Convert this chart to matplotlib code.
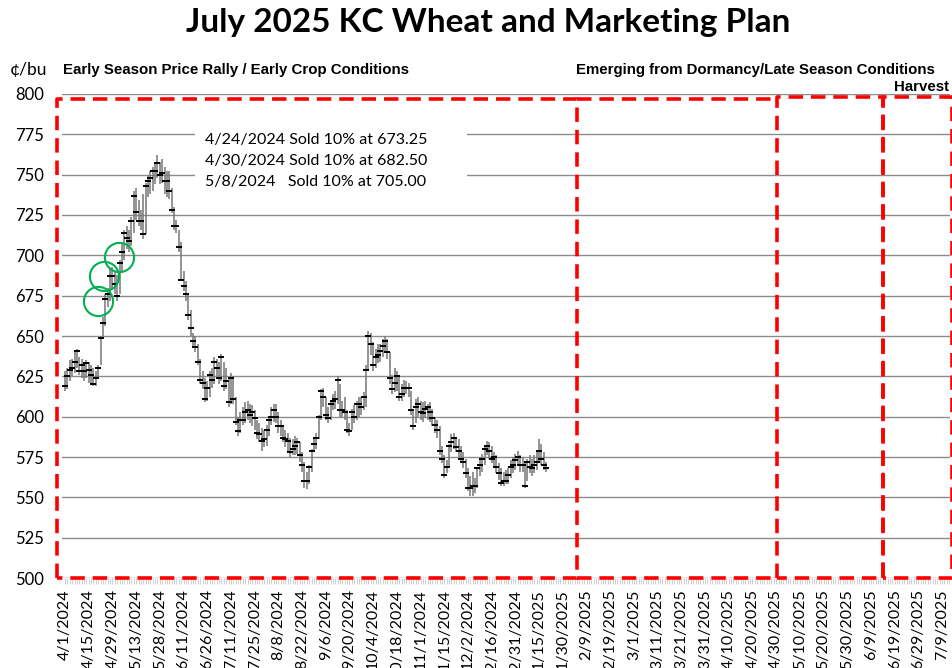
import matplotlib
matplotlib.use("Agg")
import matplotlib.pyplot as plt
from matplotlib.patches import Rectangle
import numpy as np

# 日足データ（4/1/2024 から 1/22/2025 ごろまで、単位 ¢/bu）
closes = [619, 625, 629, 630, 634, 641, 628, 632, 628, 633, 629, 626, 620, 624, 630,
          649, 658, 673, 676, 687, 687, 682, 675, 695, 702, 714, 711, 709, 721, 737,
          727, 721, 721, 713, 743, 746, 748, 752, 752, 757, 750, 751, 746, 746, 740,
          728, 718, 718, 705, 685, 681, 676, 663, 655,
          647, 643, 634, 623, 621, 611, 618, 626, 623, 634, 630, 624, 637, 619, 622,
          609, 624, 611, 597, 591, 598, 598, 603, 604, 601, 603, 599, 590, 589, 585,
          586, 592, 598, 600, 604, 600, 594, 594, 587, 586, 585, 578, 580, 582, 584,
          576, 570, 560, 560, 569, 579, 583, 587, 600, 616, 612, 601, 599, 608, 610,
          611, 623, 604, 604, 603, 592, 591, 603, 600, 608, 608, 606, 612, 629,
          650, 645, 632, 637, 638, 641, 644, 647, 640, 624, 617, 621, 625, 612, 614,
          618, 618, 618, 604, 594, 606, 608, 603, 602, 605, 606, 603, 599, 595, 592,
          579, 574, 564, 569, 582, 584, 587, 581, 579, 574, 572, 565, 556, 556, 557,
          557, 568, 570, 574, 580, 582, 579, 574, 575, 569, 565, 559, 560, 560, 564,
          569, 570, 573, 575, 570, 570, 557, 572, 569, 568, 570, 572, 579, 574, 570, 568]
highs = [628, 630, 635, 636, 640, 642, 637, 636, 634, 635, 634, 632, 630, 628, 632,
         650, 662, 676, 680, 692, 693, 690, 688, 697, 707, 716, 718, 716, 724, 740,
         742, 734, 728, 738, 745, 750, 752, 755, 758, 762, 758, 760, 755, 752, 752,
         742, 730, 722, 716, 708, 690, 684, 676, 666,
         652, 650, 645, 636, 628, 624, 622, 628, 630, 637, 636, 634, 639, 634, 630,
         624, 627, 625, 612, 600, 603, 606, 609, 610, 608, 607, 604, 598, 596, 593,
         592, 595, 600, 606, 608, 608, 603, 598, 595, 592, 590, 587, 586, 588, 587,
         584, 578, 572, 566, 570, 580, 587, 590, 601, 617, 618, 612, 606, 610, 614,
         616, 625, 620, 610, 612, 604, 596, 605, 607, 610, 612, 612, 615, 632,
         653, 652, 646, 642, 645, 645, 648, 650, 648, 640, 626, 630, 628, 626, 620,
         623, 622, 621, 616, 605, 611, 612, 610, 609, 610, 608, 609, 605, 600, 598,
         594, 582, 576, 573, 583, 589, 590, 587, 586, 582, 578, 574, 568, 563, 566,
         562, 569, 574, 577, 581, 585, 584, 582, 578, 576, 571, 568, 566, 567, 568,
         573, 575, 577, 579, 576, 575, 572, 574, 576, 574, 576, 578, 586, 583, 578, 572]
lows = [616, 617, 622, 625, 627, 630, 626, 624, 622, 624, 621, 620, 619, 619, 624,
        632, 648, 656, 668, 672, 679, 676, 672, 676, 690, 697, 704, 702, 706, 714,
        722, 718, 716, 710, 713, 736, 738, 740, 744, 748, 744, 745, 738, 736, 735,
        726, 716, 714, 702, 684, 678, 672, 660, 650,
        644, 640, 632, 620, 617, 609, 610, 612, 618, 620, 625, 620, 622, 616, 617,
        606, 608, 608, 595, 588, 590, 595, 596, 598, 596, 594, 592, 586, 584, 579,
        581, 582, 588, 595, 597, 596, 590, 588, 584, 581, 578, 575, 576, 576, 577,
        572, 566, 556, 555, 558, 566, 578, 580, 586, 598, 606, 598, 596, 598, 604,
        605, 608, 600, 600, 598, 590, 588, 592, 596, 598, 600, 601, 604, 606,
        628, 638, 628, 630, 633, 634, 637, 640, 636, 620, 614, 615, 616, 610, 610,
        612, 614, 612, 601, 592, 596, 600, 598, 597, 599, 598, 597, 594, 590, 587,
        576, 571, 562, 565, 568, 578, 580, 578, 575, 571, 568, 562, 554, 551, 551,
        553, 556, 563, 566, 570, 576, 574, 571, 568, 565, 561, 557, 557, 558, 558,
        562, 565, 567, 570, 566, 566, 556, 560, 565, 563, 565, 567, 572, 570, 567, 566]

# x軸の目盛りラベル（10本ごと）
tick_labels = ["4/1/2024", "4/15/2024", "4/29/2024", "5/13/2024", "5/28/2024", "6/11/2024",
               "6/26/2024", "7/11/2024", "7/25/2024", "8/8/2024", "8/22/2024", "9/6/2024",
               "9/20/2024", "10/4/2024", "10/18/2024", "11/1/2024", "11/15/2024", "12/2/2024",
               "12/16/2024", "12/31/2024", "1/15/2025", "1/30/2025", "2/9/2025", "2/19/2025",
               "3/1/2025", "3/11/2025", "3/21/2025", "3/31/2025", "4/10/2025", "4/20/2025",
               "4/30/2025", "5/10/2025", "5/20/2025", "5/30/2025", "6/9/2025", "6/19/2025",
               "6/29/2025", "7/9/2025"]

# 売却の丸印
sale_x = [13.9, 16.5, 22.8]
sale_y = [672, 687, 699]
sale_notes = ["4/24/2024 Sold 10% at 673.25",
              "4/30/2024 Sold 10% at 682.50",
              "5/8/2024   Sold 10% at 705.00"]

# 赤い点線の区間 (x左, x右, 上端)
box_left = [-3.4, 216, 300.4, 345]
box_right = [216, 300.4, 345, 374]
box_top = [797, 797, 798, 798]

fig = plt.figure(figsize=(9.53, 6.68), dpi=100)
ax = fig.add_axes([0.065, 0.1347, 0.932, 0.7246])

x = np.arange(len(closes))
ax.vlines(x, lows, highs, color="#767676", linewidth=1.1, zorder=3)
ax.plot(x, closes, linestyle="none", marker="_", markersize=3.8, markeredgewidth=1.4,
        color="black", zorder=4)

ax.set_xlim(-1.3, 373.4)
ax.set_ylim(500, 800)
ax.set_yticks(np.arange(500, 801, 25))
ax.yaxis.grid(True, color="#8c8c8c", linewidth=1.0, zorder=0)
ax.set_axisbelow(True)
for s in ax.spines.values():
    s.set_visible(False)

ax.set_xticks(np.arange(0, 371, 10))
ax.set_xticklabels(tick_labels, rotation=90, family="Lato", fontsize=11.5)
ax.set_xticks(np.arange(0, 374, 1), minor=True)
ax.tick_params(axis="x", which="both", length=4, color="#c8c8c8", width=0.6, pad=4)
ax.tick_params(axis="y", length=0, pad=13)
for t in ax.get_yticklabels():
    t.set_family("Lato")
    t.set_fontsize(12)

# 注記の白い背景
ax.add_patch(Rectangle((54.9, 737), 114.7, 46.9, facecolor="white", edgecolor="none", zorder=1))
for k in range(len(sale_notes)):
    ax.text(59, 771.5 - 13 * k, sale_notes[k], family="Lato", fontsize=11.5,
            va="center", ha="left", zorder=5)

ax.plot(sale_x, sale_y, linestyle="none", marker="o", markersize=21, markerfacecolor="none",
        markeredgecolor="#00B050", markeredgewidth=1.5, zorder=6)

# 赤い点線の四角（2つ目は上辺と下辺だけ、左右は隣の四角と共有）
for k in range(len(box_left)):
    if k == 1:
        bx = [box_left[k], box_right[k], np.nan, box_left[k], box_right[k]]
        by = [box_top[k], box_top[k], np.nan, 500, 500]
    else:
        bx = [box_left[k], box_left[k], box_right[k], box_right[k], box_left[k]]
        by = [500, box_top[k], box_top[k], 500, 500]
    ax.plot(bx, by, color="#FF0000", linewidth=2.6,
            linestyle=(0, (4, 2.2)), clip_on=False, zorder=7)

fig.text(0.512, 0.967, "July 2025 KC Wheat and Marketing Plan", family="Lato",
         fontweight="bold", fontsize=24, ha="center", va="center")
fig.text(0.066, 0.895, "Early Season Price Rally / Early Crop Conditions",
         family="Liberation Sans", fontweight="bold", fontsize=10.8, ha="left", va="center")
fig.text(0.981, 0.895, "Emerging from Dormancy/Late Season Conditions",
         family="Liberation Sans", fontweight="bold", fontsize=10.8, ha="right", va="center")
fig.text(0.996, 0.870, "Harvest", family="Liberation Sans", fontweight="bold",
         fontsize=10.8, ha="right", va="center")
fig.text(0.010, 0.895, "¢/bu", family="Lato", fontsize=12.5, ha="left", va="center")

plt.savefig("out.png", dpi=100)
